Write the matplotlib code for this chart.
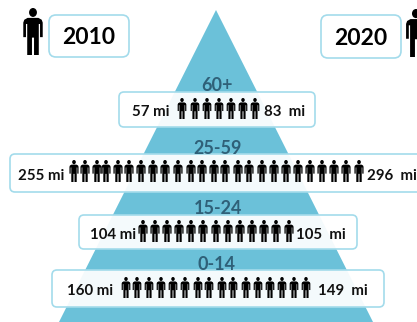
import matplotlib
matplotlib.use("Agg")
import matplotlib.pyplot as plt
from matplotlib.patches import FancyBboxPatch, PathPatch, Polygon
from matplotlib.path import Path
from matplotlib.transforms import Affine2D

age_groups = ["60+", "25-59", "15-24", "0-14"]
values_2010 = ["57 mi", "255 mi", "104 mi", "160 mi"]
values_2020 = ["83  mi", "296  mi", "105  mi", "149  mi"]
years = ["2010", "2020"]

# x position of every little figure in each row
figures_60 = [182, 195, 207, 219, 231, 243, 255]
figures_25 = [74, 85, 97, 106, 118, 129, 141, 153, 165, 178, 191, 202, 214,
              225, 238, 249, 262, 274, 286, 298, 310, 322, 334, 346, 359]
figures_15 = [143, 155, 167, 179, 191, 203, 216, 228, 240, 252, 264, 276, 289]
figures_0 = [126, 137, 149, 161, 173, 185, 198, 209, 222, 233, 246, 258, 270,
             282, 294, 306]

BLUE = "#6bc1d9"
EDGE = "#a3dbeb"
AGE_COLOR = "#2f6078"
FONT = "Lato"

# row layout: box left/right/top/bottom, figure top/height, text baseline, age label
rows = [
    dict(box=(119, 315, 92, 127), fig=(98, 21), text_y=112, age=(217, 85), figs=figures_60,
         left_x=132, right_x=264),
    dict(box=(10, 440, 154, 192), fig=(160, 22), text_y=176, age=(218, 148), figs=figures_25,
         left_x=18, right_x=367),
    dict(box=(79, 357, 215, 249), fig=(220, 22), text_y=235, age=(218, 208), figs=figures_15,
         left_x=90, right_x=296),
    dict(box=(52, 384, 270, 307), fig=(277, 21), text_y=291, age=(217, 265), figs=figures_0,
         left_x=67, right_x=318),
]


def person_path():
    '''Standing figure, height 1, centred on x=0, y growing downwards.'''
    head = Path.circle((0, 0.095), 0.095)
    body = Path([
        (-0.13, 0.21), (0.13, 0.21), (0.21, 0.25), (0.235, 0.31), (0.235, 0.62),
        (0.17, 0.62), (0.17, 0.34), (0.14, 0.34), (0.14, 1.0), (0.025, 1.0),
        (0.025, 0.63), (-0.025, 0.63), (-0.025, 1.0), (-0.14, 1.0), (-0.14, 0.34),
        (-0.17, 0.34), (-0.17, 0.62), (-0.235, 0.62), (-0.235, 0.31), (-0.21, 0.25),
        (-0.13, 0.21),
    ], closed=True)
    return Path.make_compound_path(head, body)


PERSON = person_path()


def draw_person(ax, x, top, height, width_scale=0.88):
    trans = Affine2D().scale(height * width_scale, height).translate(x, top)
    ax.add_patch(PathPatch(PERSON.transformed(trans), facecolor="black", edgecolor="none", zorder=4))


def draw_box(ax, left, right, top, bottom, radius=5):
    box = FancyBboxPatch(
        (left + radius, top + radius),
        right - left - 2 * radius,
        bottom - top - 2 * radius,
        boxstyle=f"round,pad={radius},rounding_size={radius}",
        edgecolor=EDGE,
        linewidth=1.2,
        zorder=2,
    )
    box.set_facecolor((1.0, 1.0, 1.0, 0.93))
    ax.add_patch(box)


fig = plt.figure(figsize=(4.17, 3.22), dpi=100)
ax = fig.add_axes([0, 0, 1, 1])
ax.set_xlim(0, 417)
ax.set_ylim(322, 0)
ax.axis("off")

# pyramid behind the rows
ax.add_patch(Polygon([(216, 10), (59, 322), (373, 322)], closed=True, facecolor=BLUE,
                     edgecolor="none", zorder=1))

for row, age, left_label, right_label in zip(rows, age_groups, values_2010, values_2020):
    left, right, top, bottom = row["box"]
    draw_box(ax, left, right, top, bottom)
    fig_top, fig_height = row["fig"]
    for x in row["figs"]:
        draw_person(ax, x, fig_top, fig_height)
    ax.text(row["left_x"], row["text_y"], left_label, fontsize=10.8, fontweight="bold",
            family=FONT, color="#111111", va="center", ha="left", zorder=5)
    ax.text(row["right_x"], row["text_y"], right_label, fontsize=10.8, fontweight="bold",
            family=FONT, color="#111111", va="center", ha="left", zorder=5)
    ax.text(row["age"][0], row["age"][1], age, fontsize=13, fontweight="bold",
            family=FONT, color=AGE_COLOR, va="center", ha="center", zorder=5)

# year badges and the large figures beside them
draw_box(ax, 49, 129, 15, 57, radius=7)
draw_box(ax, 321, 401, 15, 58, radius=7)
ax.text(89, 37, years[0], fontsize=16.5, fontweight="bold", family=FONT, color="black",
        va="center", ha="center", zorder=5)
ax.text(361, 38, years[1], fontsize=16.5, fontweight="bold", family=FONT, color="black",
        va="center", ha="center", zorder=5)
draw_person(ax, 33, 8, 47)
draw_person(ax, 416, 9, 48)

fig.savefig("out.png", dpi=100)
plt.close(fig)
